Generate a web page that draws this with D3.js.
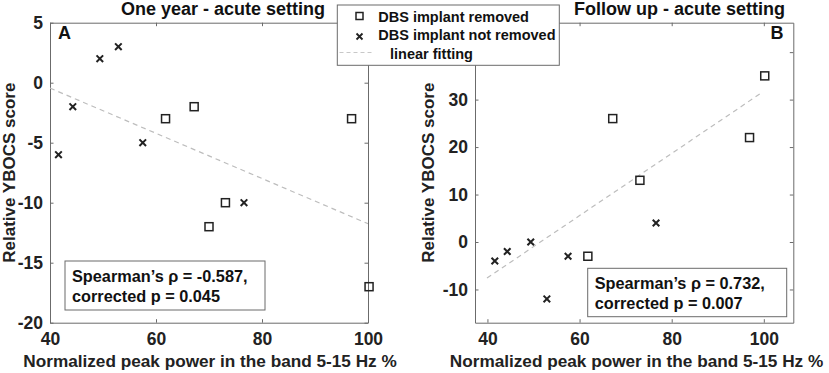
<!DOCTYPE html>
<html>
<head>
<meta charset="utf-8">
<script src="https://cdn.jsdelivr.net/npm/d3@7"></script>
<style>
    body { margin: 0; background: #fff; }
    svg { font-family: "Liberation Sans", Arial, sans-serif; font-weight: bold; }
</style>
</head>
<body>
<div id="chartArea"></div>
<script>
// Data.

// x values (normalized peak power, %)
const xRemoved = [61.8, 67.2, 70.0, 73.1, 96.9, 100.2];
const xNotRemoved = [41.6, 44.3, 49.4, 52.9, 57.5, 76.6];

// Panel A - one year
const yRemovedA = [-3, -2, -12, -10, -3, -17];
const yNotRemovedA = [-6, -2, 2, 3, -5, -10];
const fitXA = [40, 100];
const fitYA = [-0.45, -11.75];

// Panel B - follow up (no value for the 70% patient)
const xRemovedB = [61.8, 67.2, 73.1, 96.9, 100.2];
const yRemovedB = [-3, 26, 13, 22, 35];
const yNotRemovedB = [-4, -2, 0, -12, -3, 4];
const fitXB = [39.9, 99.3];
const fitYB = [-7.6, 31.3];

const xTicks = [40, 60, 80, 100];
const yTicksA = [-20, -15, -10, -5, 0, 5];
const yTicksB = [-10, 0, 10, 20, 30, 40];
const hiddenTicksB = [40]; // label sits behind the legend

const legendLabels = ['DBS implant removed', 'DBS implant not removed', 'linear fitting'];

const axisColor = '#6b6b6b';
const markColor = '#222';

const svg = d3.select('#chartArea')
    .append('svg')
    .attr('width', 829)
    .attr('height', 373);

// Function to draw one scatter panel
function drawPanel(p) {
    const x = d3.scaleLinear().domain(p.xDomain).range([p.left, p.right]);
    const y = d3.scaleLinear().domain(p.yDomain).range([p.bottom, p.top]);
    const g = svg.append('g');

    const yFormat = d => p.hidden.includes(d) ? '' : d;

    // box with inward ticks on all sides
    const axes = [
        [d3.axisBottom(x).tickValues(xTicks), `translate(0,${p.bottom})`, 'bottom'],
        [d3.axisTop(x).tickValues(xTicks).tickFormat(''), `translate(0,${p.top})`, 'top'],
        [d3.axisLeft(y).tickValues(p.yTicks).tickFormat(yFormat), `translate(${p.left},0)`, 'left'],
        [d3.axisRight(y).tickValues(p.yTicks).tickFormat(''), `translate(${p.right},0)`, 'right']
    ];
    axes.forEach(([ax, tr, side]) => {
        ax.tickSizeInner(-3.5).tickSizeOuter(0);
        const a = g.append('g').attr('transform', tr).call(ax);
        a.select('.domain').attr('stroke', axisColor);
        a.selectAll('.tick line').attr('stroke', axisColor);
        const t = a.selectAll('text')
            .attr('fill', markColor)
            .style('font-size', '17.5px')
            .style('font-weight', 'bold')
            .style('font-family', '"Liberation Sans", Arial, sans-serif');
        if (side === 'bottom') t.attr('y', 9.5);
        if (side === 'left') t.attr('x', -7);
    });

    // clip fit line to axes
    const clipId = 'clip' + p.name;
    svg.append('clipPath').attr('id', clipId)
        .append('rect')
        .attr('x', p.left).attr('y', p.top)
        .attr('width', p.right - p.left).attr('height', p.bottom - p.top);

    g.append('path')
        .datum(d3.zip(p.fitX, p.fitY))
        .attr('clip-path', `url(#${clipId})`)
        .attr('fill', 'none')
        .attr('stroke', '#bdbdbd')
        .attr('stroke-width', 1.2)
        .attr('stroke-dasharray', '5,4')
        .attr('d', d3.line().x(d => x(d[0])).y(d => y(d[1])));

    // squares: implant removed
    g.selectAll('rect.sq')
        .data(d3.zip(p.xSq, p.ySq))
        .enter()
        .append('rect')
        .attr('class', 'sq')
        .attr('x', d => x(d[0]) - 4)
        .attr('y', d => y(d[1]) - 4)
        .attr('width', 8)
        .attr('height', 8)
        .attr('fill', 'none')
        .attr('stroke', markColor)
        .attr('stroke-width', 1.5);

    // crosses: implant not removed
    g.selectAll('path.cr')
        .data(d3.zip(p.xCr, p.yCr))
        .enter()
        .append('path')
        .attr('class', 'cr')
        .attr('d', d => {
            const cx = x(d[0]), cy = y(d[1]), s = 3.3;
            return `M${cx - s},${cy - s}L${cx + s},${cy + s}M${cx - s},${cy + s}L${cx + s},${cy - s}`;
        })
        .attr('stroke', markColor)
        .attr('stroke-width', 2);

    // titles and labels
    g.append('text')
        .attr('x', p.titleX).attr('y', 15)
        .attr('text-anchor', 'middle')
        .style('font-size', '18px')
        .attr('fill', '#111')
        .text(p.title);

    g.append('text')
        .attr('x', p.xLabelX).attr('y', 367)
        .attr('text-anchor', 'middle')
        .style('font-size', '17.2px')
        .attr('fill', '#222')
        .text('Normalized peak power in the band 5-15 Hz %');

    g.append('text')
        .attr('transform', `translate(${p.yLabelX},${(p.top + p.bottom) / 2}) rotate(-90)`)
        .attr('text-anchor', 'middle')
        .style('font-size', '17px')
        .attr('fill', '#222')
        .text('Relative YBOCS score');

    g.append('text')
        .attr('x', p.letterX).attr('y', 38.5)
        .attr('text-anchor', p.letterAnchor)
        .style('font-size', '18px')
        .attr('fill', '#111')
        .text(p.letter);

    // statistics box
    const b = p.statBox;
    g.append('rect')
        .attr('x', b[0]).attr('y', b[1])
        .attr('width', b[2]).attr('height', b[3])
        .attr('fill', '#fff')
        .attr('stroke', axisColor);
    p.statText.forEach((t, i) => {
        g.append('text')
            .attr('x', b[0] + 7).attr('y', b[1] + 21 + i * 20)
            .style('font-size', '16.3px')
            .attr('fill', '#111')
            .text(t);
    });
}

drawPanel({
    name: 'A', left: 50, right: 368, top: 22.7, bottom: 322.7,
    xDomain: [40, 100], yDomain: [-20, 5], yTicks: yTicksA, hidden: [],
    xSq: xRemoved, ySq: yRemovedA, xCr: xNotRemoved, yCr: yNotRemovedA,
    fitX: fitXA, fitY: fitYA,
    title: 'One year -  acute setting', titleX: 223, xLabelX: 210, yLabelX: 14.5,
    letter: 'A', letterX: 58, letterAnchor: 'start',
    statBox: [65, 261, 200, 49],
    statText: ['Spearman\u2019s \u03c1 = -0.587,', 'corrected p = 0.045']
});

drawPanel({
    name: 'B', left: 475, right: 793.3, top: 22.7, bottom: 322.7,
    xDomain: [37.3, 106.4], yDomain: [-17, 46.2], yTicks: yTicksB, hidden: hiddenTicksB,
    xSq: xRemovedB, ySq: yRemovedB, xCr: xNotRemoved, yCr: yNotRemovedB,
    fitX: fitXB, fitY: fitYB,
    title: 'Follow up - acute setting', titleX: 679.5, xLabelX: 636.5, yLabelX: 434,
    letter: 'B', letterX: 783.5, letterAnchor: 'end',
    statBox: [587.7, 268.3, 199, 48.4],
    statText: ['Spearman\u2019s \u03c1 = 0.732,', 'corrected p = 0.007']
});

// Legend
const legend = svg.append('g');
legend.append('rect')
    .attr('x', 337.3).attr('y', 5)
    .attr('width', 222).attr('height', 60.3)
    .attr('fill', '#fff')
    .attr('stroke', axisColor);

legend.append('rect')
    .attr('x', 356).attr('y', 12.5)
    .attr('width', 7).attr('height', 7)
    .attr('fill', 'none')
    .attr('stroke', markColor)
    .attr('stroke-width', 1.5);
legend.append('path')
    .attr('d', 'M356.5,33.5L362.5,39.5M356.5,39.5L362.5,33.5')
    .attr('stroke', markColor)
    .attr('stroke-width', 1.8);
legend.append('line')
    .attr('x1', 339.5).attr('x2', 373)
    .attr('y1', 52.5).attr('y2', 52.5)
    .attr('stroke', '#c8c8c8')
    .attr('stroke-dasharray', '4,3');

legendLabels.forEach((t, i) => {
    legend.append('text')
        .attr('x', i < 2 ? 378.3 : 390)
        .attr('y', 21.5 + i * 18.8)
        .style('font-size', '14.5px')
        .attr('fill', '#111')
        .text(t);
});
</script>
</body>
</html>
